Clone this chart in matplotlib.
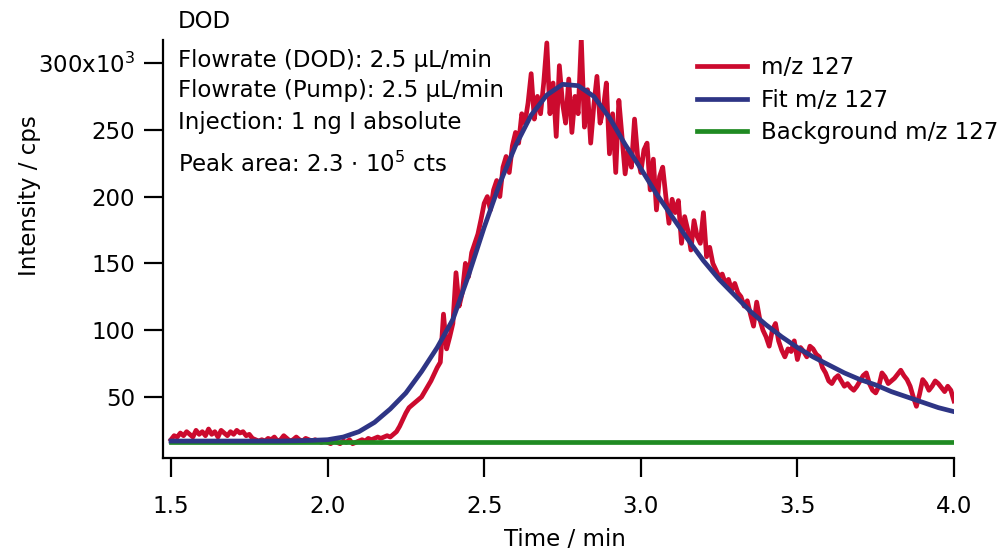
import numpy as np
import matplotlib
matplotlib.use("Agg")
import matplotlib.pyplot as plt
from matplotlib.ticker import FixedLocator, FixedFormatter

# ---------------- data (intensity in 10^3 cps) ----------------
t_start, t_step = 1.50, 0.01
red_vals = [
    18, 21, 20, 23, 21, 24, 22, 20, 25, 22,
    24, 21, 26, 22, 24, 20, 25, 23, 21, 24,
    22, 25, 23, 24, 21, 22, 19, 18, 17, 18,
    17, 19, 18, 20, 17, 18, 21, 19, 17, 18,
    20, 18, 17, 19, 18, 17, 18, 17, 16, 17,
    16, 15, 17, 16, 15, 17, 16, 18, 15, 16,
    17, 18, 17, 19, 18, 19, 20, 19, 20, 21,
    20, 22, 24, 28, 33, 38, 42, 44, 46, 48,
    50, 54, 58, 62, 67, 72, 76, 112, 86, 95,
    105, 143, 118, 128, 150, 140, 158, 165, 172, 183,
    195, 200, 190, 205, 212, 200, 222, 230, 218, 238,
    248, 240, 262, 255, 270, 292, 258, 275, 262, 285,
    315, 262, 285, 245, 298, 270, 255, 288, 248, 275,
    262, 318, 252, 280, 240, 268, 290, 255, 265, 285,
    232, 262, 218, 272, 245, 217, 235, 222, 258, 230,
    218, 235, 240, 205, 228, 190, 215, 222, 200, 180,
    198, 188, 197, 165, 185, 175, 160, 182, 170, 165,
    188, 155, 162, 150, 145, 140, 142, 135, 138, 130,
    135, 128, 125, 118, 122, 112, 103, 121, 108, 100,
    95, 88, 100, 105, 92, 85, 80, 86, 84, 92,
    78, 87, 84, 80, 88, 86, 82, 80, 72, 68,
    62, 60, 64, 66, 62, 58, 60, 57, 55, 58,
    62, 66, 68, 60, 55, 53, 58, 68, 65, 60,
    62, 64, 67, 70, 66, 63, 58, 50, 43, 52,
    63, 60, 55, 58, 62, 60, 57, 54, 58, 55,
    47,
]
red_t = [t_start + i * t_step for i in range(len(red_vals))]

fit_t = [1.50, 1.55, 1.60, 1.65, 1.70, 1.75, 1.80, 1.85, 1.90, 1.95,
         2.00, 2.05, 2.10, 2.15, 2.20, 2.25, 2.30, 2.35, 2.40, 2.45,
         2.50, 2.55, 2.60, 2.65, 2.70, 2.75, 2.80, 2.85, 2.90, 2.95,
         3.00, 3.05, 3.10, 3.15, 3.20, 3.25, 3.30, 3.35, 3.40, 3.45,
         3.50, 3.55, 3.60, 3.65, 3.70, 3.75, 3.80, 3.85, 3.90, 3.95, 4.00]
fit_vals = [17, 17, 17, 17, 17, 17, 17, 17, 17.2, 17.5,
            18, 20, 24, 31, 41, 53, 69, 87, 108, 141,
            177, 210, 238, 261, 276, 284, 283, 275, 259, 239,
            221, 202, 185, 168, 152, 138, 126, 114, 104, 95,
            87, 80, 74, 68, 63, 59, 54, 50, 46, 42, 39]

bg_t = [1.5, 4.0]
bg_vals = [16.5, 16.5]

x_ticks = [1.5, 2.0, 2.5, 3.0, 3.5, 4.0]
x_ticklabels = ["1.5", "2.0", "2.5", "3.0", "3.5", "4.0"]
y_ticks = [50, 100, 150, 200, 250, 300]
y_ticklabels = ["50", "100", "150", "200", "250", r"300x10$^{3}$"]

legend_labels = ["m/z 127", "Fit m/z 127", "Background m/z 127"]
info_lines = ["DOD", "Flowrate (DOD): 2.5 µL/min", "Flowrate (Pump): 2.5 µL/min",
              "Injection: 1 ng I absolute"]
peak_text = r"Peak area: 2.3 $\cdot$ 10$^{5}$ cts"

# ---------------- styling ----------------
plt.rcParams['font.family'] = ['DejaVu Sans']
plt.rcParams['mathtext.fontset'] = 'dejavusans'
FS = 16.5
RED = "#CC0A2E"
BLUE = "#2E3585"
GREEN = "#1F8A22"

W, H = 1000, 554
fig = plt.figure(figsize=(W / 100, H / 100), dpi=100)
L, R, T, B = 163, 954, 40, 458
ax = fig.add_axes([L / W, 1 - B / H, (R - L) / W, (B - T) / H])

ax.plot(red_t, red_vals, color=RED, lw=3.4, solid_joinstyle='round', label=legend_labels[0], zorder=2)
ax.plot(bg_t, bg_vals, color=GREEN, lw=3.4, label=legend_labels[2], zorder=3)
ax.plot(fit_t, fit_vals, color=BLUE, lw=3.4, solid_joinstyle='round', label=legend_labels[1], zorder=4)

ax.set_xlim(1.4745, 4.0)
ax.set_ylim(4.3, 317.2)
for s in ["top", "right"]:
    ax.spines[s].set_visible(False)
for s in ["left", "bottom"]:
    ax.spines[s].set_linewidth(1.6)

ax.xaxis.set_major_locator(FixedLocator(x_ticks))
ax.xaxis.set_major_formatter(FixedFormatter(x_ticklabels))
ax.yaxis.set_major_locator(FixedLocator(y_ticks))
ax.yaxis.set_major_formatter(FixedFormatter(y_ticklabels))
ax.tick_params(axis='x', direction='out', length=13.5, width=1.6, pad=13, labelsize=FS)
ax.tick_params(axis='y', direction='out', length=14, width=1.6, pad=6, labelsize=FS)

fig.text(565 / W, 1 - 540 / H, "Time / min", ha='center', va='center', fontsize=FS)
fig.text(30 / W, 1 - 196 / H, "Intensity / cps", ha='center', va='center', rotation=90, fontsize=FS)

ys = [22, 60, 91, 122]
for y, s in zip(ys, info_lines):
    fig.text(178 / W, 1 - y / H, s, ha='left', va='center', fontsize=FS)
fig.text(178 / W, 1 - 164 / H, peak_text, ha='left', va='center', fontsize=FS)

handles, labels = ax.get_legend_handles_labels()
hd = [handles[0], handles[2], handles[1]]
lb = [labels[0], labels[2], labels[1]]
leg = fig.legend(hd, lb, loc='upper left', bbox_to_anchor=(697 / W, 1 - 56 / H),
                 frameon=False, fontsize=FS, handlelength=2.2, handletextpad=0.6,
                 labelspacing=0.42, borderaxespad=0, borderpad=0)

fig.savefig("out.png", dpi=100)
